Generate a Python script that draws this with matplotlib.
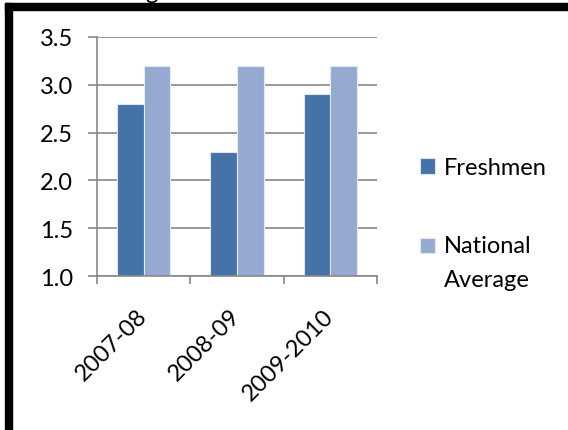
import numpy as np
import matplotlib.pyplot as plt
from matplotlib.patches import Rectangle

plt.rcParams['font.family'] = ['Lato', 'DejaVu Sans']

# Данные
years = ['2007-08', '2008-09', '2009-2010']
freshmen = [2.8, 2.3, 2.9]
national = [3.2, 3.2, 3.2]
y_ticks = [1.0, 1.5, 2.0, 2.5, 3.0, 3.5]

c_dark = '#4572A7'
c_light = '#95A9D1'
c_grid = '#878787'
fs = 17

W, H = 568, 431
fig = plt.figure(figsize=(W / 100, H / 100), dpi=100)
ax = fig.add_axes([97 / W, 1 - 277 / H, (377 - 97) / W, (277 - 38) / H])

x = np.arange(len(years))
w = 0.286
b1 = ax.bar(x - w / 2, freshmen, w, color=c_dark, edgecolor='#dfe6f1', linewidth=0.8, label='Freshmen')
b2 = ax.bar(x + w / 2, national, w, color=c_light, edgecolor='#e4eaf4', linewidth=0.8, label='National\nAverage')

ax.set_xlim(-0.5, 2.5)
ax.set_ylim(1.0, 3.5)
ax.set_yticks(y_ticks)
ax.set_yticklabels([f'{v:.1f}' for v in y_ticks], fontsize=fs)
ax.yaxis.grid(True, color=c_grid, linewidth=1.2)
ax.set_axisbelow(True)

ax.set_xticks(x)
ax.set_xticklabels(years, fontsize=fs, rotation=45, ha='right', va='center', rotation_mode='anchor')
ax.set_xticks(np.arange(-0.5, 3, 1), minor=True)
ax.tick_params(axis='x', which='major', length=0, pad=26)
ax.tick_params(axis='x', which='minor', length=6, width=1.2, color=c_grid)
ax.tick_params(axis='y', length=6.5, width=1.2, color=c_grid, pad=11)

for s in ['top', 'right']:
    ax.spines[s].set_visible(False)
for s in ['left', 'bottom']:
    ax.spines[s].set_color(c_grid)
    ax.spines[s].set_linewidth(1.2)

leg = ax.legend(handles=[b1, b2], loc='upper left', bbox_to_anchor=(420 / W, 1 - 158 / H),
                bbox_transform=fig.transFigure, frameon=False, fontsize=fs,
                handlelength=0.64, handleheight=0.64, handletextpad=0.36,
                labelspacing=2.4, borderpad=0, borderaxespad=0)
for t in leg.get_texts():
    t.set_linespacing(1.8)
# квадрат второй записи — на уровне первой строки
h2 = leg.legend_handles[1]
h2.set_y(h2.get_y() + 12.4)

# рамка и обрезанный заголовок сверху
fig.add_artist(Rectangle((5 / W, 0), 7 / W, 1 - 4 / H, transform=fig.transFigure, color='black'))
fig.add_artist(Rectangle((5 / W, 1 - 11 / H), 1, 7 / H, transform=fig.transFigure, color='black'))
fig.text(151 / W, 1 + 1 / H, 'g', fontsize=fs, ha='center', va='baseline')

plt.savefig('out.png', dpi=100)
